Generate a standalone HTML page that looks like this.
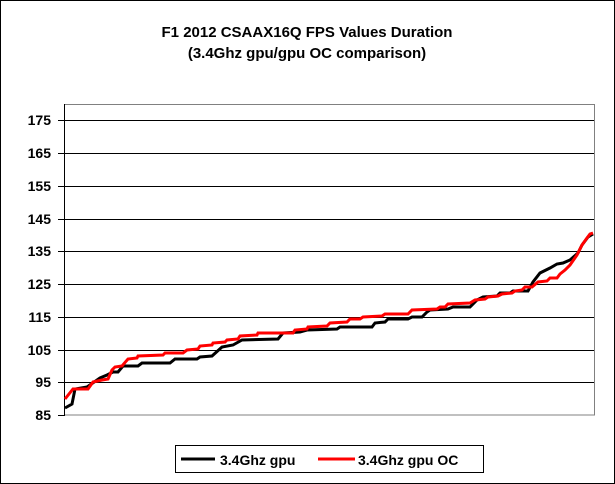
<!DOCTYPE html>
<html><head><style>
body{margin:0;background:#fff}
svg{display:block}
text{font-family:"Liberation Sans",Arial,sans-serif;font-weight:bold;fill:#000}
</style></head><body>
<svg width="615" height="484" viewBox="0 0 615 484" xmlns="http://www.w3.org/2000/svg">
<rect x="0.5" y="0.5" width="614" height="483" fill="#fff" stroke="#000"/>
<text x="307" y="37" font-size="15" text-anchor="middle">F1 2012 CSAAX16Q FPS Values Duration</text>
<text x="307" y="58" font-size="15" text-anchor="middle">(3.4Ghz gpu/gpu OC comparison)</text>
<rect x="64.5" y="104.5" width="530" height="310.5" fill="#fff" stroke="#808080"/>
<g stroke="#000" stroke-width="1">
<line x1="58" x2="594" y1="120.5" y2="120.5"/>
<line x1="58" x2="594" y1="153.5" y2="153.5"/>
<line x1="58" x2="594" y1="186.5" y2="186.5"/>
<line x1="58" x2="594" y1="219.5" y2="219.5"/>
<line x1="58" x2="594" y1="251.5" y2="251.5"/>
<line x1="58" x2="594" y1="284.5" y2="284.5"/>
<line x1="58" x2="594" y1="317.5" y2="317.5"/>
<line x1="58" x2="594" y1="350.5" y2="350.5"/>
<line x1="58" x2="594" y1="382.5" y2="382.5"/>
<line x1="58" x2="64" y1="415.5" y2="415.5"/>
<line x1="64.5" x2="64.5" y1="104" y2="416"/>
</g>
<g font-size="14" text-anchor="end">
<text x="51" y="125">175</text><text x="51" y="158">165</text><text x="51" y="191">155</text>
<text x="51" y="224">145</text><text x="51" y="256">135</text><text x="51" y="289">125</text>
<text x="51" y="322">115</text><text x="51" y="355">105</text><text x="51" y="387">95</text>
<text x="51" y="420">85</text>
</g>
<polyline fill="none" stroke="#000" stroke-width="3" points="65,408 72,404 75,389 87,387 100,378 107,375 113,372 118,372 123,366 138,366 142,363 170,363 175,359 197,359 200,357 212,356 222,347 233,345 242,340 278,339 283,333 300,332 307,330 337,329 340,327 372,327 375,323 385,322 388,319 408,319 412,317 422,317 427,312 430,310 448,309 453,307 470,307 477,300 483,297 497,296 500,293 510,293 513,291 528,291 533,282 540,273 550,268 557,264 563,263 570,260 578,253 582,245 588,237 593,234"/>
<polyline fill="none" stroke="#ff0000" stroke-width="3" points="65,399 73,389 88,389 93,382 102,380 108,379 112,370 115,367 122,366 128,359 137,358 138,356 163,355 165,353 183,353 187,350 198,349 200,346 212,345 213,343 225,342 227,340 238,339 240,336 257,335 258,333 293,333 295,330 307,329 308,327 327,326 330,323 347,322 350,319 360,319 363,317 382,316 385,314 408,314 412,310 437,309 440,307 445,307 448,304 470,303 475,300 485,299 488,297 498,296 502,294 512,293 515,291 522,290 525,287 532,287 538,282 547,281 550,278 557,278 560,274 565,270 570,265 577,255 582,245 587,238 590,234 593,233"/>
<rect x="175.5" y="445.5" width="308" height="27" fill="#fff" stroke="#000"/>
<line x1="181" x2="215" y1="459" y2="459" stroke="#000" stroke-width="3"/>
<text x="220" y="465" font-size="14">3.4Ghz gpu</text>
<line x1="318" x2="355" y1="459" y2="459" stroke="#ff0000" stroke-width="3"/>
<text x="358" y="465" font-size="14">3.4Ghz gpu OC</text>
</svg>
</body></html>
